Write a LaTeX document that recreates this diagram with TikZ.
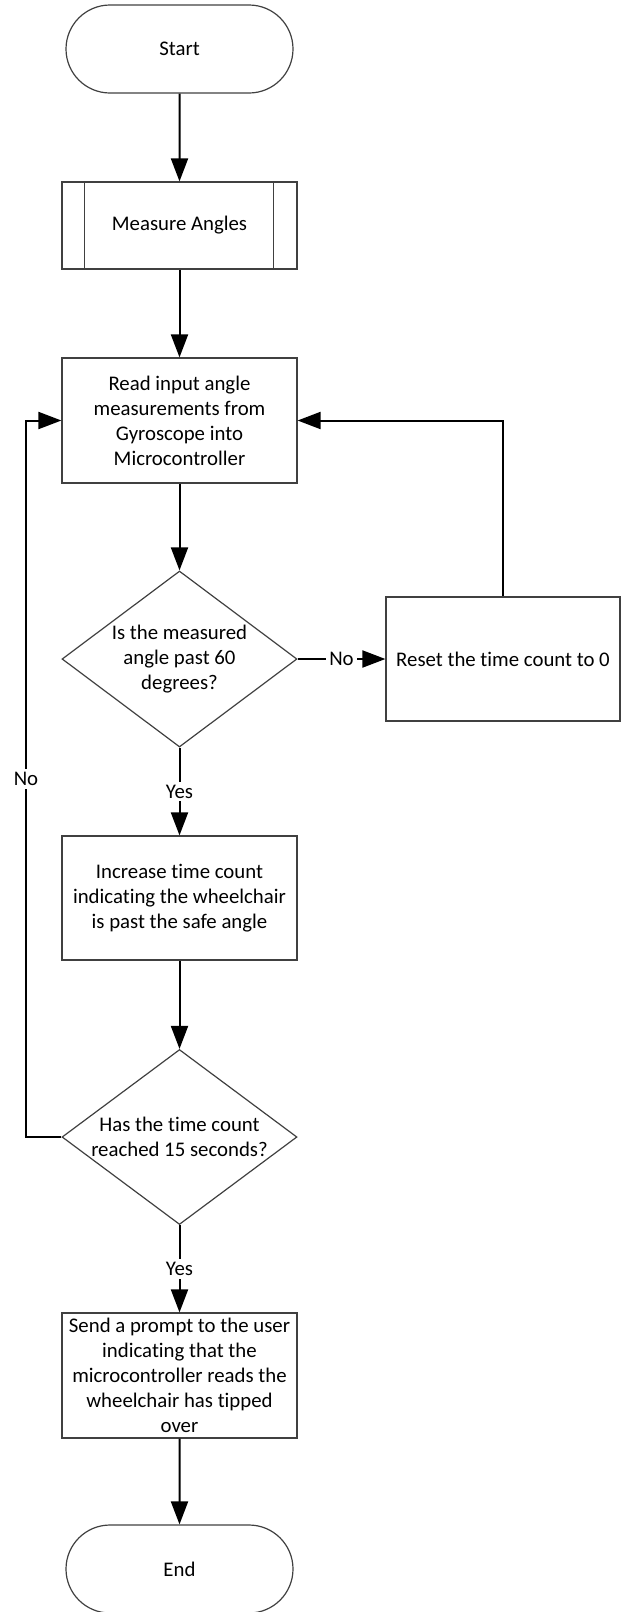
\documentclass[tikz,border=0pt]{standalone}
\usepackage{fontspec}
\setmainfont{Carlito}[Ligatures=NoCommon]
\usepackage{tikz}
\usetikzlibrary{shapes.geometric,shapes.misc}
\usetikzlibrary{arrows.meta}
\tikzset{>={Triangle[length=11.5pt,width=8.5pt]}}
\tikzset{
  box/.style={draw=black!75, line width=0.6pt, rectangle, align=center, inner sep=2pt,
    minimum width=117.5pt, minimum height=62.5pt, font=\fontsize{10.4}{12.5}\selectfont},
  terminal/.style={box, rounded rectangle, minimum height=44pt},
  decision/.style={box, diamond, inner sep=0pt, minimum height=88pt, aspect=1.335},
  flow/.style={->, line width=1pt},
  lbl/.style={fill=white, inner sep=1.5pt, font=\fontsize{10.4}{12.5}\selectfont}
}

\begin{document}
\begin{tikzpicture}[x=1pt,y=-1pt]
                \useasboundingbox (0,0) rectangle (314,806);

                \node[terminal] (start) at (89.75,24.5) {Start};
                \node[box, minimum height=43.5pt] (measure) at (89.75,112.75) {Measure Angles};
                \node[box] (read) at (89.75,210.25) {Read input angle\\measurements from\\Gyroscope into\\Microcontroller};
                \node[decision] (check) at (89.75,329.5) {Is the measured\\angle past 60\\degrees?};
                \node[box, minimum width=117pt, minimum height=62pt] (reset) at (251.5,329.5) {Reset the time count to 0};
                \node[box, minimum height=62pt] (increase) at (89.75,449) {Increase time count\\indicating the wheelchair\\is past the safe angle};
                \node[decision, minimum height=87.5pt] (timer) at (89.75,568.5) {Has the time count\\reached 15 seconds?};
                \node[box] (prompt) at (89.75,687.75) {Send a prompt to the user\\indicating that the\\microcontroller reads the\\wheelchair has tipped\\over};
                \node[terminal] (end) at (89.75,784.5) {End};

                % corner of the loop back on the left
                \coordinate (back) at (13,0);

                % side bars of the measure box
                \draw[black!75, line width=0.6pt] ([xshift=11.5pt]measure.north west) -- ([xshift=11.5pt]measure.south west);
                \draw[black!75, line width=0.6pt] ([xshift=-12pt]measure.north east) -- ([xshift=-12pt]measure.south east);

                % start to measure
                \draw[flow] (start) -- (measure);
                % measure to read
                \draw[flow] (measure) -- (read);
                % read to check
                \draw[flow] (read) -- (check);
                % check to reset
                \draw[flow] (check.east) -- node[lbl] {No} (reset.west);
                % reset back to read
                \draw[flow] (reset.north) |- (read.east);
                % check to increase
                \draw[flow] (check.south) -- node[lbl] {Yes} (increase.north);
                % increase to timer
                \draw[flow] (increase) -- (timer);
                % timer back to read
                \draw[flow] (timer.west) -- (timer.west -| back) -- node[lbl] {No} (read.west -| back) -- (read.west);
                % timer to prompt
                \draw[flow] (timer.south) -- node[lbl] {Yes} (prompt.north);
                % prompt to end
                \draw[flow] (prompt) -- (end);
            \end{tikzpicture}
\end{document}
